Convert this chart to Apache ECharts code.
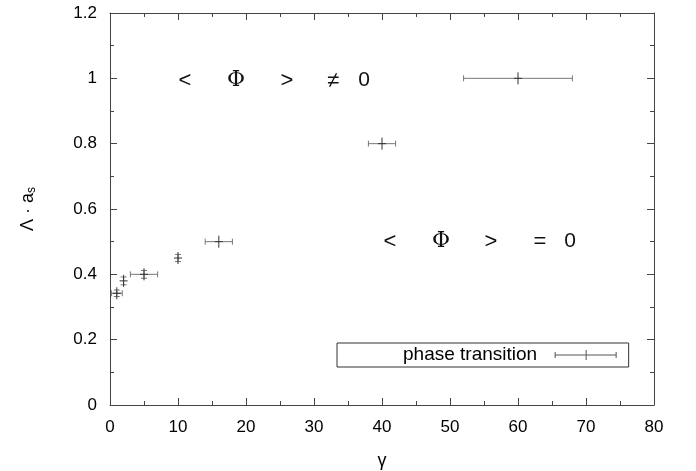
<!DOCTYPE html>
<html>
<head>
<meta charset="utf-8">
<script src="https://cdn.jsdelivr.net/npm/echarts@6/dist/echarts.min.js"></script>
<style>
  html, body { margin: 0; padding: 0; background: #fff; }
  #chart { width: 696px; height: 471px; }
</style>
</head>
<body>
<div id="chart"></div>
<script>
// gamma, Lambda*a_s and their errors
const gamma = [1, 2, 5, 10, 16, 40, 60];
const lambdaAs = [0.342, 0.38, 0.40, 0.45, 0.5, 0.8, 1.0];
const gammaErr = [0.8, 0, 2, 0, 2, 2, 8];
const lambdaErr = [0.01, 0.012, 0.012, 0.011, 0, 0, 0];

const xTicks = [0, 10, 20, 30, 40, 50, 60, 70, 80];
const yTicks = [0, 0.2, 0.4, 0.6, 0.8, 1, 1.2];

const points = gamma.map((g, i) => [g, lambdaAs[i], gammaErr[i], lambdaErr[i]]);

const font = 'Liberation Sans, Arial, sans-serif';
const barColor = '#777';

function renderBar(params, api) {
    const x = api.value(0), y = api.value(1), dx = api.value(2), dy = api.value(3);
    const c = api.coord([x, y]);
    const kids = [];
    const st = { stroke: barColor, lineWidth: 1 };
    const cap = 3;
    if (dx > 0) {
        const l = api.coord([x - dx, y]), r = api.coord([x + dx, y]);
        kids.push({ type: 'line', shape: { x1: l[0], y1: c[1], x2: r[0], y2: c[1] }, style: st });
        kids.push({ type: 'line', shape: { x1: l[0], y1: c[1] - cap, x2: l[0], y2: c[1] + cap }, style: st });
        kids.push({ type: 'line', shape: { x1: r[0], y1: c[1] - cap, x2: r[0], y2: c[1] + cap }, style: st });
    }
    if (dy > 0) {
        const t = api.coord([x, y + dy]), b = api.coord([x, y - dy]);
        kids.push({ type: 'line', shape: { x1: c[0], y1: t[1], x2: c[0], y2: b[1] }, style: st });
        kids.push({ type: 'line', shape: { x1: c[0] - cap, y1: t[1], x2: c[0] + cap, y2: t[1] }, style: st });
        kids.push({ type: 'line', shape: { x1: c[0] - cap, y1: b[1], x2: c[0] + cap, y2: b[1] }, style: st });
    }
    // point symbol '+'
    const s = 6;
    kids.push({ type: 'line', shape: { x1: c[0], y1: c[1] - s, x2: c[0], y2: c[1] + s }, style: { stroke: '#333', lineWidth: 1 } });
    kids.push({ type: 'line', shape: { x1: c[0] - 4, y1: c[1], x2: c[0] + 4, y2: c[1] }, style: { stroke: '#333', lineWidth: 1 } });
    return { type: 'group', children: kids };
}

function label(text, x, y, size, family) {
    return {
        type: 'text', x: x, y: y,
        style: { text: text, fill: '#111', font: size + 'px ' + (family || font), align: 'center', verticalAlign: 'middle' }
    };
}

const chart = echarts.init(document.getElementById('chart'));
const axisLine = { show: true, onZero: false, lineStyle: { color: '#444', width: 1 } };
const tick = { show: true, inside: true, length: 7, lineStyle: { color: '#444' } };
const minor = { show: true, splitNumber: 2, length: 4, lineStyle: { color: '#444' } };

chart.setOption({
    animation: false,
    backgroundColor: '#fff',
    grid: { left: 110, right: 42, top: 13, bottom: 66, outerBoundsMode: 'none' },
    xAxis: [{
        type: 'value', min: xTicks[0], max: xTicks[xTicks.length - 1], interval: 10,
        axisLine: axisLine, axisTick: tick, minorTick: minor, splitLine: { show: false },
        axisLabel: { color: '#000', fontSize: 17, fontFamily: font, margin: 14 },
        name: 'γ', nameLocation: 'middle', nameGap: 47,
        nameTextStyle: { color: '#000', fontSize: 18, fontFamily: font }
    }, {
        type: 'value', position: 'top', min: 0, max: 80, interval: 10,
        axisLine: axisLine, axisTick: tick, minorTick: minor, splitLine: { show: false },
        axisLabel: { show: false }
    }],
    yAxis: [{
        type: 'value', min: yTicks[0], max: yTicks[yTicks.length - 1], interval: 0.2,
        axisLine: axisLine, axisTick: tick, minorTick: minor, splitLine: { show: false },
        axisLabel: { color: '#000', fontSize: 17, fontFamily: font, margin: 13,
            formatter: v => String(+v.toFixed(1)) },
        name: '{a|Λ · a}{s|s}', nameLocation: 'middle', nameGap: 72, nameRotate: 90,
        nameTextStyle: { rich: {
            a: { color: '#000', fontSize: 18, fontFamily: font },
            s: { color: '#000', fontSize: 12, fontFamily: font, padding: [8, 0, 0, 0] }
        } }
    }, {
        type: 'value', position: 'right', min: 0, max: 1.2, interval: 0.2,
        axisLine: axisLine, axisTick: tick, minorTick: minor, splitLine: { show: false },
        axisLabel: { show: false }
    }],
    legend: {
        data: ['phase transition'],
        left: 337, top: 343,
        align: 'right', itemGap: 0,
        icon: 'path://M0,4.5h62v1h-62z M0,2h1v6h-1z M61,2h1v6h-1z M31,0h1v10h-1z',
        itemWidth: 63, itemHeight: 10,
        itemStyle: { color: '#555' },
        textStyle: { color: '#000', fontSize: 19, fontFamily: font, lineHeight: 20, padding: [0, 12, 0, 0] },
        borderColor: '#333', borderWidth: 1, padding: [2, 12, 2, 66]
    },
    series: [{
        name: 'phase transition',
        type: 'custom',
        renderItem: renderBar,
        encode: { x: 0, y: 1 },
        itemStyle: { color: '#555' },
        data: points
    }],
    graphic: [
        label('<', 185, 81, 22),
        label('Φ', 236, 80, 22, 'DejaVu Serif, serif'),
        label('>', 287, 81, 22),
        label('≠', 333, 81, 22),
        label('0', 364, 80, 21),
        label('<', 390, 242, 22),
        label('Φ', 441, 241, 22, 'DejaVu Serif, serif'),
        label('>', 491, 242, 22),
        label('=', 540, 242, 22),
        label('0', 570, 241, 21)
    ]
});
</script>
</body>
</html>
